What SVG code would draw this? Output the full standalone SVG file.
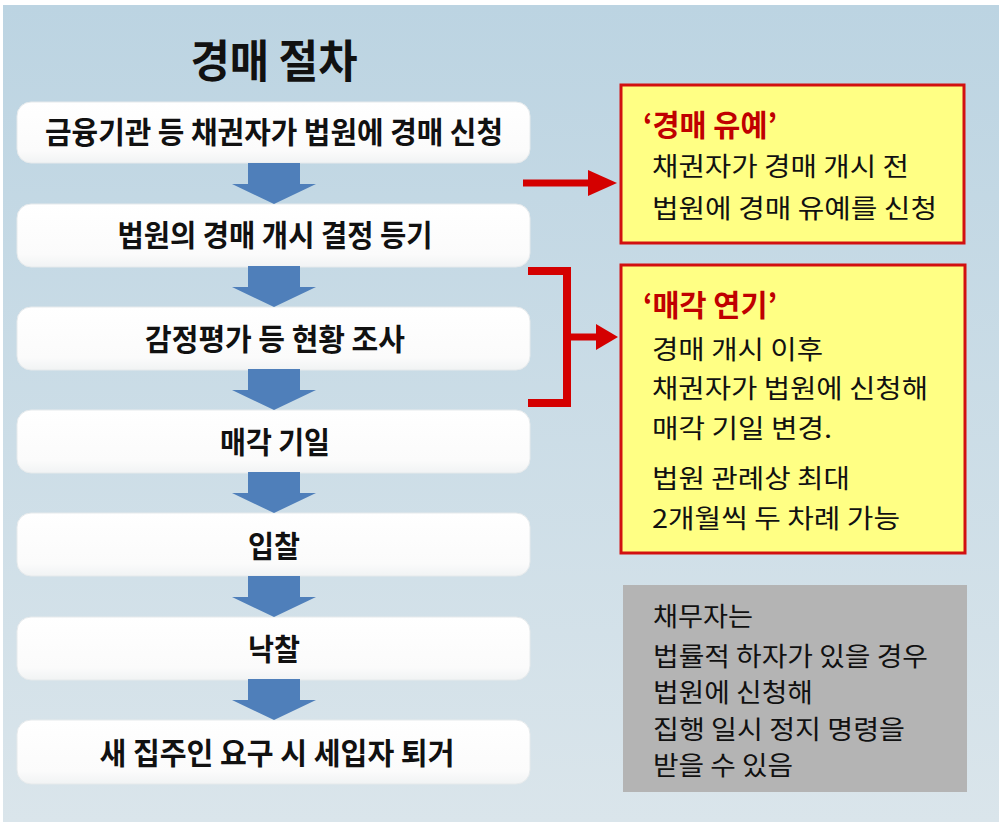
<svg xmlns="http://www.w3.org/2000/svg" width="1004" height="822" viewBox="0 0 1004 822">
<defs>
<linearGradient id="bg" x1="0" y1="0" x2="0" y2="1">
<stop offset="0" stop-color="#bcd4e2"/>
<stop offset="1" stop-color="#dae5eb"/>
</linearGradient>
<linearGradient id="boxg" x1="0" y1="0" x2="0" y2="1">
<stop offset="0" stop-color="#ffffff"/>
<stop offset="0.8" stop-color="#fbfbfb"/>
<stop offset="1" stop-color="#f1f3f4"/>
</linearGradient>
<polygon id="down" points="-26,0 26,0 26,21 42,21 0,41 -42,21 -26,21"/>
</defs>
<style>
.kr{font-family:"Noto Sans CJK KR","Noto Sans",sans-serif;}
.step{fill:url(#boxg);stroke:#e6eaec;stroke-width:1;}
.steptxt{font-size:30px;font-weight:bold;fill:#111;text-anchor:middle;}
.arrow{fill:#4f7fba;}
.note{fill:#ffff84;stroke:#d21010;stroke-width:3;}
.notetitle{font-size:30px;font-weight:bold;fill:#c00000;}
.body{font-size:26px;fill:#111;}
.red{stroke:#d40000;fill:none;}
.redfill{fill:#d40000;}
</style>
<rect x="0" y="0" width="1004" height="822" fill="#ffffff"/>
<rect x="3" y="5" width="996" height="817" fill="url(#bg)"/>

<text class="kr" x="274" y="78" font-size="45" font-weight="bold" fill="#111" text-anchor="middle" textLength="167" lengthAdjust="spacingAndGlyphs">경매 절차</text>

<g id="step1"><rect class="step" x="17" y="102" width="513" height="61" rx="14"/><text class="kr steptxt" x="274" y="143" textLength="458" lengthAdjust="spacingAndGlyphs">금융기관 등 채권자가 법원에 경매 신청</text></g>
<g id="step2"><rect class="step" x="17" y="204" width="513" height="63" rx="14"/><text class="kr steptxt" x="275" y="246" textLength="315" lengthAdjust="spacingAndGlyphs">법원의 경매 개시 결정 등기</text></g>
<g id="step3"><rect class="step" x="17" y="307" width="513" height="63" rx="14"/><text class="kr steptxt" x="275" y="350" textLength="260" lengthAdjust="spacingAndGlyphs">감정평가 등 현황 조사</text></g>
<g id="step4"><rect class="step" x="17" y="410" width="513" height="63" rx="14"/><text class="kr steptxt" x="275" y="453" textLength="110" lengthAdjust="spacingAndGlyphs">매각 기일</text></g>
<g id="step5"><rect class="step" x="17" y="513" width="513" height="63" rx="14"/><text class="kr steptxt" x="274" y="557" textLength="52" lengthAdjust="spacingAndGlyphs">입찰</text></g>
<g id="step6"><rect class="step" x="17" y="617" width="513" height="63" rx="14"/><text class="kr steptxt" x="274" y="660" textLength="52" lengthAdjust="spacingAndGlyphs">낙찰</text></g>
<g id="step7"><rect class="step" x="17" y="720" width="513" height="64" rx="14"/><text class="kr steptxt" x="277" y="764" textLength="355" lengthAdjust="spacingAndGlyphs">새 집주인 요구 시 세입자 퇴거</text></g>

<g id="note1"><rect class="note" x="621" y="85" width="343" height="158"/>
<text class="kr notetitle" x="643" y="136" textLength="134" lengthAdjust="spacingAndGlyphs">‘경매 유예’</text>
<text class="kr body" x="652" y="176" textLength="257" lengthAdjust="spacingAndGlyphs">채권자가 경매 개시 전</text>
<text class="kr body" x="652" y="218" textLength="285" lengthAdjust="spacingAndGlyphs">법원에 경매 유예를 신청</text></g>

<g id="note2"><rect class="note" x="621" y="265" width="344" height="288"/>
<text class="kr notetitle" x="643" y="316" textLength="134" lengthAdjust="spacingAndGlyphs">‘매각 연기’</text>
<text class="kr body" x="652" y="359" textLength="171" lengthAdjust="spacingAndGlyphs">경매 개시 이후</text>
<text class="kr body" x="652" y="398" textLength="276" lengthAdjust="spacingAndGlyphs">채권자가 법원에 신청해</text>
<text class="kr body" x="652" y="438" textLength="180" lengthAdjust="spacingAndGlyphs">매각 기일 변경.</text>
<text class="kr body" x="652" y="488" textLength="198" lengthAdjust="spacingAndGlyphs">법원 관례상 최대</text>
<text class="kr body" x="652" y="528" textLength="248" lengthAdjust="spacingAndGlyphs">2개월씩 두 차례 가능</text></g>

<g id="note3"><rect x="623" y="585" width="344" height="207" fill="#b4b4b4"/>
<text class="kr body" x="653" y="626" textLength="100" lengthAdjust="spacingAndGlyphs">채무자는</text>
<text class="kr body" x="653" y="666" textLength="275" lengthAdjust="spacingAndGlyphs">법률적 하자가 있을 경우</text>
<text class="kr body" x="653" y="702" textLength="160" lengthAdjust="spacingAndGlyphs">법원에 신청해</text>
<text class="kr body" x="653" y="739" textLength="252" lengthAdjust="spacingAndGlyphs">집행 일시 정지 명령을</text>
<text class="kr body" x="653" y="775" textLength="140" lengthAdjust="spacingAndGlyphs">받을 수 있음</text></g>

<g id="connectors">
<use href="#down" class="arrow" x="274" y="163"/>
<use href="#down" class="arrow" x="274" y="266"/>
<use href="#down" class="arrow" x="274" y="369"/>
<use href="#down" class="arrow" x="274" y="472"/>
<use href="#down" class="arrow" x="274" y="576"/>
<use href="#down" class="arrow" x="274" y="679"/>
<line class="red" x1="523" y1="183" x2="592" y2="183" stroke-width="7"/>
<polygon class="redfill" points="588,170 617,183 588,196"/>
<path class="red" d="M528,271 H567 V403 H528" stroke-width="8"/>
<line class="red" x1="567" y1="337" x2="600" y2="337" stroke-width="7"/>
<polygon class="redfill" points="596,324 618,337 596,350"/>
</g>
</svg>
